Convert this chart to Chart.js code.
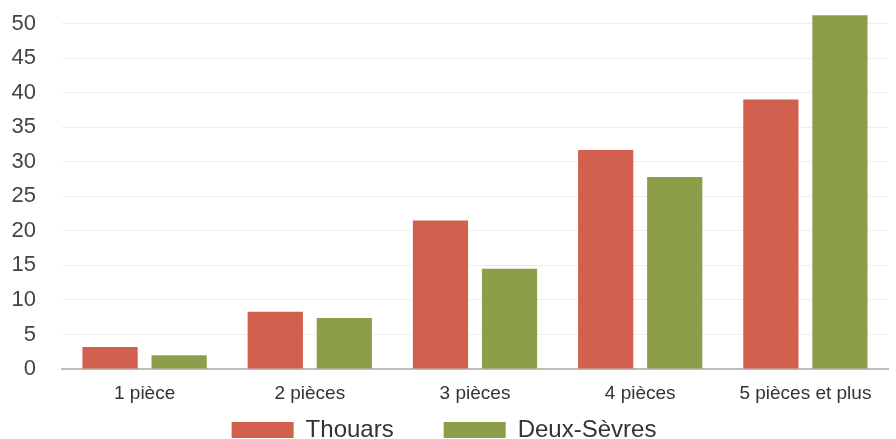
<html>
<head>
<meta charset="UTF-8">
<script src="https://cdn.jsdelivr.net/npm/chart.js"></script>
<style>
  html, body { margin: 0; padding: 0; background: #fff; }
  #wrap { width: 896px; height: 439px; }
</style>
</head>
<body>
<div id="wrap"><canvas id="myChart"></canvas></div>
<script>
const categories = ['1 pièce', '2 pièces', '3 pièces', '4 pièces', '5 pièces et plus'];
const thouars = [3.2, 8.3, 21.5, 31.7, 39.0];
const deuxSevres = [2.0, 7.4, 14.5, 27.8, 51.2];
const yTicks = [0, 5, 10, 15, 20, 25, 30, 35, 40, 45, 50];

const ctx = document.getElementById('myChart');

new Chart(ctx, {
  type: 'bar',
  data: {
    labels: categories,
    datasets: [
      { label: 'Thouars', data: thouars, backgroundColor: '#d2604e' },
      { label: 'Deux-Sèvres', data: deuxSevres, backgroundColor: '#8c9e4a' }
    ]
  },
  options: {
    responsive: true,
    maintainAspectRatio: false,
    animation: false,
    layout: { padding: { top: 0, right: 8, bottom: -13, left: 0 } },
    datasets: { bar: { categoryPercentage: 0.836, barPercentage: 0.8 } },
    scales: {
      x: {
        afterFit(scale) { scale.height = 47; },
        grid: { display: false, drawTicks: false },
        border: { color: '#bdbdbd', width: 2 },
        ticks: { color: '#333', padding: 13, font: { family: 'Liberation Sans', size: 19 } }
      },
      y: {
        min: 0,
        max: 51.5,
        afterFit(scale) { scale.width = 62; },
        afterBuildTicks(scale) { scale.ticks = yTicks.map(v => ({ value: v })); },
        grid: { color: '#eeeeee', drawTicks: true, tickLength: 26, tickColor: 'transparent' },
        border: { display: false },
        ticks: { color: '#444', padding: 0, font: { family: 'Liberation Sans', size: 22 } }
      }
    },
    plugins: {
      legend: {
        position: 'bottom',
        labels: {
          boxWidth: 62,
          boxHeight: 16,
          padding: 2,
          color: '#333',
          font: { family: 'Liberation Sans', size: 24 },
          // widen the gap between the two legend entries
          generateLabels(chart) {
            const items = Chart.defaults.plugins.legend.labels.generateLabels(chart);
            items[0].text += '\u2003\u2003';
            return items;
          }
        }
      },
      tooltip: { enabled: false }
    }
  }
});
</script>
</body>
</html>
